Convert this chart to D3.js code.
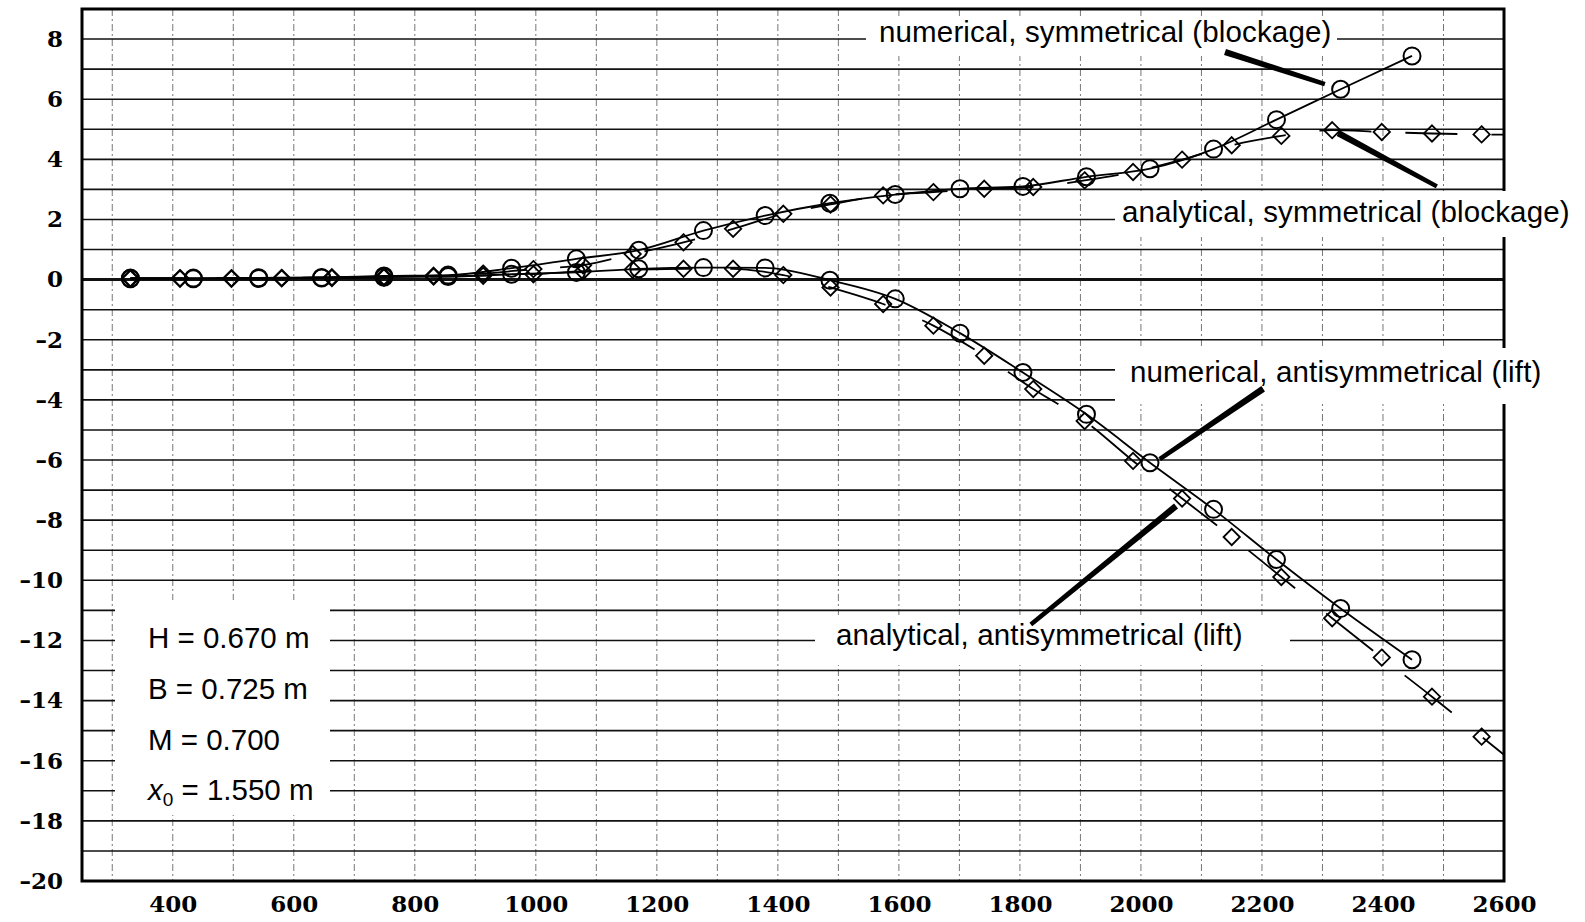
<!DOCTYPE html>
<html>
<head>
<meta charset="utf-8">
<script src="https://cdn.jsdelivr.net/npm/d3@7"></script>
<style>
  body { margin: 0; background: #fff; }
  svg { display: block; }
</style>
</head>
<body>
<div id="chart"></div>
<script>
// numerical results (circles)
const numX    = [330, 434, 542, 646, 749, 855, 960, 1067, 1170, 1277, 1379, 1486, 1594, 1701, 1805, 1910, 2015, 2120, 2224, 2330, 2448];
const numSym  = [0.05, 0.05, 0.06, 0.07, 0.12, 0.15, 0.38, 0.69, 0.98, 1.63, 2.13, 2.54, 2.83, 3.02, 3.10, 3.42, 3.69, 4.34, 5.32, 6.33, 7.44];
const numAnti = [0.03, 0.03, 0.04, 0.05, 0.08, 0.10, 0.18, 0.24, 0.36, 0.40, 0.39, -0.02, -0.64, -1.78, -3.09, -4.48, -6.09, -7.64, -9.31, -10.94, -12.64];

// analytical results (diamonds)
const anaX    = [330, 412, 497, 580, 663, 749, 831, 913, 996, 1078, 1160, 1244, 1326, 1409, 1487, 1574, 1657, 1741, 1822, 1907, 1987, 2068, 2150, 2232, 2316, 2398, 2481, 2563];
const anaSym  = [0.05, 0.05, 0.05, 0.06, 0.08, 0.10, 0.13, 0.20, 0.35, 0.48, 0.85, 1.24, 1.69, 2.19, 2.50, 2.80, 2.91, 3.02, 3.08, 3.30, 3.58, 3.99, 4.47, 4.78, 4.97, 4.91, 4.86, 4.83];
const anaAnti = [0.03, 0.03, 0.03, 0.04, 0.05, 0.07, 0.10, 0.13, 0.18, 0.28, 0.33, 0.36, 0.36, 0.15, -0.26, -0.81, -1.53, -2.53, -3.64, -4.70, -6.03, -7.28, -8.56, -9.89, -11.26, -12.57, -13.87, -15.20];
// analytical lines run on to the right edge
const lineEndX = 2600, lineEndSym = 4.82, lineEndAnti = -15.8;

const xTicks = d3.range(400, 2601, 200);
const yTicks = d3.range(-20, 9, 2);
const params = ["H = 0.670 m", "B = 0.725 m", "M = 0.700", "x0 = 1.550 m"];

const width = 1585, height = 922;

const x = d3.scaleLinear().domain([250, 2600]).range([82, 1504]);
const y = d3.scaleLinear().domain([-20, 9]).range([881, 9]);

const svg = d3.select("#chart").append("svg")
    .attr("width", width)
    .attr("height", height)
    .attr("viewBox", [0, 0, width, height]);

// grid
svg.append("g")
  .selectAll("line")
  .data(d3.range(300, 2600, 100))
  .join("line")
    .attr("x1", d => x(d)).attr("x2", d => x(d))
    .attr("y1", y(9)).attr("y2", y(-20))
    .attr("stroke", "#777")
    .attr("stroke-width", 1)
    .attr("stroke-dasharray", "7,3,2,3");

svg.append("g")
  .selectAll("line")
  .data(d3.range(-19, 9, 1))
  .join("line")
    .attr("x1", x(250)).attr("x2", x(2600))
    .attr("y1", d => y(d)).attr("y2", d => y(d))
    .attr("stroke", "#111")
    .attr("stroke-width", d => d === 0 ? 3 : 1.6);

// frame
svg.append("rect")
    .attr("x", x(250)).attr("y", y(9))
    .attr("width", x(2600) - x(250))
    .attr("height", y(-20) - y(9))
    .attr("fill", "none")
    .attr("stroke", "#000")
    .attr("stroke-width", 3);

// white boxes behind the labels (they hide the grid)
const boxes = [
  [866, 18, 471, 38],
  [1115, 191, 470, 46],
  [1115, 348, 435, 56],
  [815, 615, 475, 50],
  [115, 600, 215, 215]
];
svg.append("g")
  .selectAll("rect")
  .data(boxes)
  .join("rect")
    .attr("x", d => d[0]).attr("y", d => d[1])
    .attr("width", d => d[2]).attr("height", d => d[3])
    .attr("fill", "#fff");

// axes
const fmt = d => d < 0 ? "\u2013" + Math.abs(d) : String(d);

svg.append("g")
    .attr("transform", `translate(0,${y(-20)})`)
    .call(d3.axisBottom(x).tickValues(xTicks).tickFormat(d => String(d)).tickSize(0).tickPadding(15))
    .call(g => g.select(".domain").remove())
    .selectAll("text")
    .attr("font-family", "DejaVu Serif")
    .attr("font-weight", "bold")
    .attr("font-size", 23)
    .attr("fill", "#000");

svg.append("g")
    .attr("transform", `translate(${x(250)},0)`)
    .call(d3.axisLeft(y).tickValues(yTicks).tickFormat(fmt).tickSize(0).tickPadding(19))
    .call(g => g.select(".domain").remove())
    .selectAll("text")
    .attr("font-family", "DejaVu Serif")
    .attr("font-weight", "bold")
    .attr("font-size", 23)
    .attr("fill", "#000");

// curves
const numSymPts  = numX.map((d, i) => [d, numSym[i]]);
const numAntiPts = numX.map((d, i) => [d, numAnti[i]]);
const anaSymPts  = anaX.map((d, i) => [d, anaSym[i]]);
const anaAntiPts = anaX.map((d, i) => [d, anaAnti[i]]);

const line = d3.line()
    .x(d => x(d[0]))
    .y(d => y(d[1]))
    .curve(d3.curveMonotoneX);

const curves = [
  { pts: numSymPts, dash: null },
  { pts: numAntiPts, dash: null },
  { pts: anaSymPts.concat([[lineEndX, lineEndSym]]), dash: "52,34" },
  { pts: anaAntiPts.concat([[lineEndX, lineEndAnti]]), dash: "60,40" }
];

svg.append("g")
  .selectAll("path")
  .data(curves)
  .join("path")
    .attr("d", d => line(d.pts))
    .attr("fill", "none")
    .attr("stroke", "#000")
    .attr("stroke-width", 1.8)
    .attr("stroke-dasharray", d => d.dash);

// markers
svg.append("g")
  .selectAll("circle")
  .data(numSymPts.concat(numAntiPts))
  .join("circle")
    .attr("cx", d => x(d[0]))
    .attr("cy", d => y(d[1]))
    .attr("r", 8.5)
    .attr("fill", "none")
    .attr("stroke", "#000")
    .attr("stroke-width", 2);

const diamond = d3.symbol().type(d3.symbolDiamond2).size(170);
svg.append("g")
  .selectAll("path")
  .data(anaSymPts.concat(anaAntiPts))
  .join("path")
    .attr("d", diamond)
    .attr("transform", d => `translate(${x(d[0])},${y(d[1])})`)
    .attr("fill", "none")
    .attr("stroke", "#000")
    .attr("stroke-width", 1.8);

// leader lines, from label to a marker (data units)
const leaders = [
  [[2139, 7.57], [2304, 6.5]],
  [[2326, 4.87], [2489, 3.1]],
  [[2202, -3.63], [2031, -5.97]],
  [[2058, -7.53], [1818, -11.47]]
];
svg.append("g")
  .selectAll("path")
  .data(leaders)
  .join("path")
    .attr("d", d => {
      const [x0, y0] = [x(d[0][0]), y(d[0][1])];
      const [x1, y1] = [x(d[1][0]), y(d[1][1])];
      const len = Math.hypot(x1 - x0, y1 - y0);
      const nx = -(y1 - y0) / len, ny = (x1 - x0) / len;
      const w0 = 3.2, w1 = 2.2;
      return `M${x0 + nx * w0},${y0 + ny * w0}L${x1 + nx * w1},${y1 + ny * w1}` +
             `L${x1 - nx * w1},${y1 - ny * w1}L${x0 - nx * w0},${y0 - ny * w0}Z`;
    })
    .attr("fill", "#000");

// labels
const labels = [
  ["numerical, symmetrical (blockage)", 879, 42],
  ["analytical, symmetrical (blockage)", 1122, 222],
  ["numerical, antisymmetrical (lift)", 1130, 382],
  ["analytical, antisymmetrical (lift)", 836, 645]
];
svg.append("g")
  .selectAll("text")
  .data(labels)
  .join("text")
    .attr("x", d => d[1])
    .attr("y", d => d[2])
    .attr("font-family", "Liberation Sans, Arial, sans-serif")
    .attr("font-size", 29.5)
    .attr("letter-spacing", 0.15)
    .attr("fill", "#000")
    .text(d => d[0]);

// parameter block
const pg = svg.append("g")
    .attr("font-family", "Liberation Sans, Arial, sans-serif")
    .attr("font-size", 29.5)
    .attr("fill", "#000");

params.forEach((p, i) => {
  const t = pg.append("text")
      .attr("x", 148)
      .attr("y", 648 + i * 50.8);
  if (p.startsWith("x0")) {
    t.append("tspan").attr("font-style", "italic").text("x");
    t.append("tspan").attr("font-size", 19).attr("dy", 6).text("0");
    t.append("tspan").attr("dy", -6).text(p.slice(2));
  } else {
    t.text(p);
  }
});
</script>
</body>
</html>
